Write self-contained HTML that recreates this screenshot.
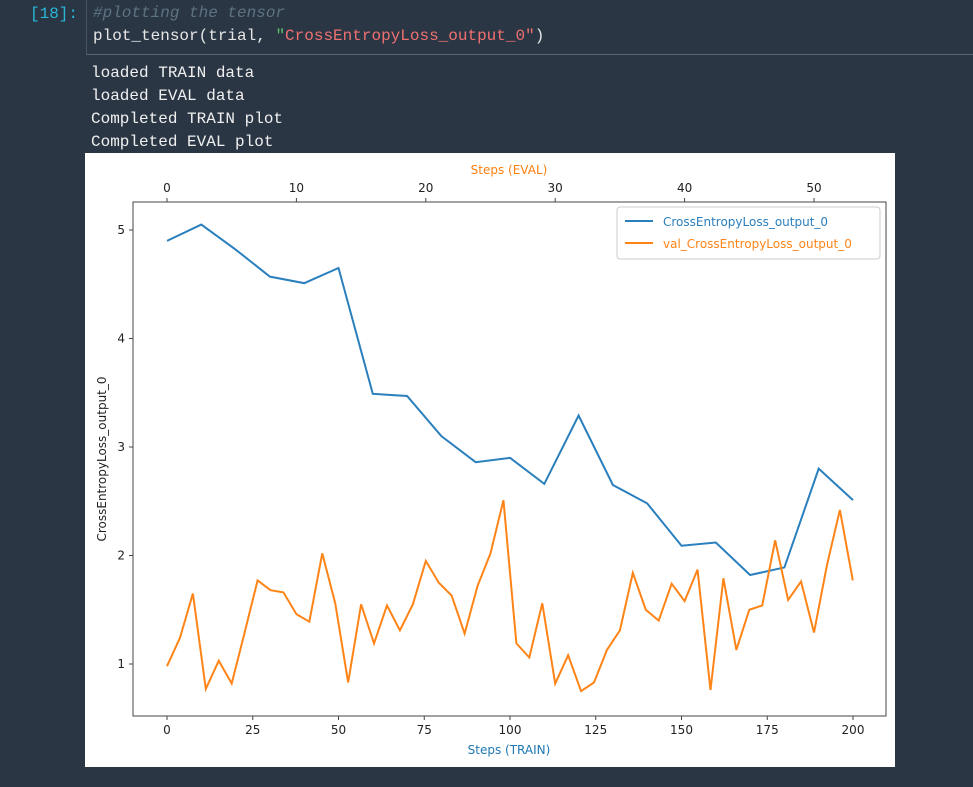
<!DOCTYPE html>
<html><head><meta charset="utf-8"><style>
body{margin:0;width:973px;height:787px;background:#2b3645;overflow:hidden;font-family:"Liberation Mono",monospace;}
.pr{position:absolute;left:30px;top:5px;color:#28b8d6;font-size:16px}
.code{position:absolute;left:86px;top:0;width:887px;height:54px;border-left:1px solid #4a5666;border-bottom:1px solid #5a6676}
.l{position:absolute;left:6px;font-size:16px;white-space:pre;color:#e6e6e6}
.out{position:absolute;left:91px;color:#f0f0f0;font-size:16px;white-space:pre}
#chart{position:absolute;left:85px;top:153px;width:810px;height:614px;background:#fff}
</style></head><body>
<div class="pr">[18]:</div>
<div class="code">
<div class="l" style="top:4px;color:#5d7380;font-style:italic">#plotting the tensor</div>
<div class="l" style="top:27px">plot_tensor(trial, <span style="color:#5ec46a">"</span><span style="color:#f07070">CrossEntropyLoss_output_0</span><span style="color:#f07070">"</span>)</div>
</div>
<div class="out" style="top:64px">loaded TRAIN data</div>
<div class="out" style="top:87px">loaded EVAL data</div>
<div class="out" style="top:110px">Completed TRAIN plot</div>
<div class="out" style="top:133px">Completed EVAL plot</div>
<div id="chart">
<svg id="svg" width="810" height="614" xmlns="http://www.w3.org/2000/svg" font-family="DejaVu Sans, sans-serif" font-size="12"></svg>
</div>
<script>
const trainSteps=[0,10,20,30,40,50,60,70,80,90,100,110,120,130,140,150,160,170,180,190,200];
const trainLoss=[4.9,5.05,4.82,4.57,4.51,4.65,3.49,3.47,3.10,2.86,2.90,2.66,3.29,2.65,2.48,2.09,2.12,1.82,1.89,2.80,2.51];
const evalLoss=[0.98,1.24,1.65,0.77,1.03,0.82,1.29,1.77,1.68,1.66,1.46,1.39,2.02,1.56,0.83,1.55,1.19,1.54,1.31,1.55,1.95,1.75,1.63,1.28,1.72,2.02,2.51,1.19,1.06,1.56,0.82,1.08,0.75,0.83,1.13,1.31,1.84,1.50,1.40,1.74,1.58,1.87,0.76,1.79,1.13,1.50,1.54,2.14,1.59,1.76,1.29,1.91,2.42,1.77];
const xTicks=[0,25,50,75,100,125,150,175,200];
const xTopTicks=[0,10,20,30,40,50];
const yTicks=[1,2,3,4,5];
const OX=85,OY=153;
const x=v=>167-OX+(853-167)*v/200;
const xt=v=>167-OX+(814-167)*v/50;
const y=v=>664-OY-(664-230)*(v-1)/4;
const L=48,R=801,T=49,B=563;
const s=document.getElementById('svg');const NS='http://www.w3.org/2000/svg';
function el(t,a,txt){const e=document.createElementNS(NS,t);for(const k in a)e.setAttribute(k,a[k]);if(txt!==undefined)e.textContent=txt;s.appendChild(e);return e;}
let e;
e=el('rect',{x:L,y:T,width:R-L,height:B-T,fill:'none',stroke:'#444','stroke-width':1});


xTicks.forEach(v=>{el('line',{x1:x(v),x2:x(v),y1:B,y2:B+4,stroke:'#444'});
e=el('text',{x:x(v),y:B+18,'text-anchor':'middle',fill:'#222'},v);

});
xTopTicks.forEach(v=>{el('line',{x1:xt(v),x2:xt(v),y1:T,y2:T-4,stroke:'#444'});
e=el('text',{x:xt(v),y:T-10,'text-anchor':'middle',fill:'#222'},v);

});
yTicks.forEach(v=>{el('line',{x1:L,x2:L-4,y1:y(v),y2:y(v),stroke:'#444'});
e=el('text',{x:L-8,y:y(v)+4,'text-anchor':'end',fill:'#222'},v);

});
e=el('text',{x:424,y:601,'text-anchor':'middle',fill:'#1f77b4'},'Steps (TRAIN)');


e=el('text',{x:424,y:21,'text-anchor':'middle',fill:'#ff7f0e'},'Steps (EVAL)');


e=el('text',{x:0,y:0,'text-anchor':'middle',fill:'#222',transform:'translate(21,306) rotate(-90)'},'CrossEntropyLoss_output_0');


e=el('polyline',{points:trainSteps.map((v,i)=>x(v)+','+y(trainLoss[i])).join(' '),fill:'none',stroke:'#2a7fbd','stroke-width':2});


e=el('polyline',{points:evalLoss.map((v,i)=>xt(i)+','+y(v)).join(' '),fill:'none',stroke:'#ff8418','stroke-width':2});


e=el('rect',{x:532,y:54,width:263,height:52,fill:'#fff',stroke:'#ccc',rx:3});


el('line',{x1:540,x2:568,y1:68,y2:68,stroke:'#2a7fbd','stroke-width':2});
e=el('text',{x:578,y:73,fill:'#2a7fbd'},'CrossEntropyLoss_output_0');


el('line',{x1:540,x2:568,y1:90,y2:90,stroke:'#ff8418','stroke-width':2});
e=el('text',{x:578,y:95,fill:'#ff8418'},'val_CrossEntropyLoss_output_0');


</script>
</body></html>
